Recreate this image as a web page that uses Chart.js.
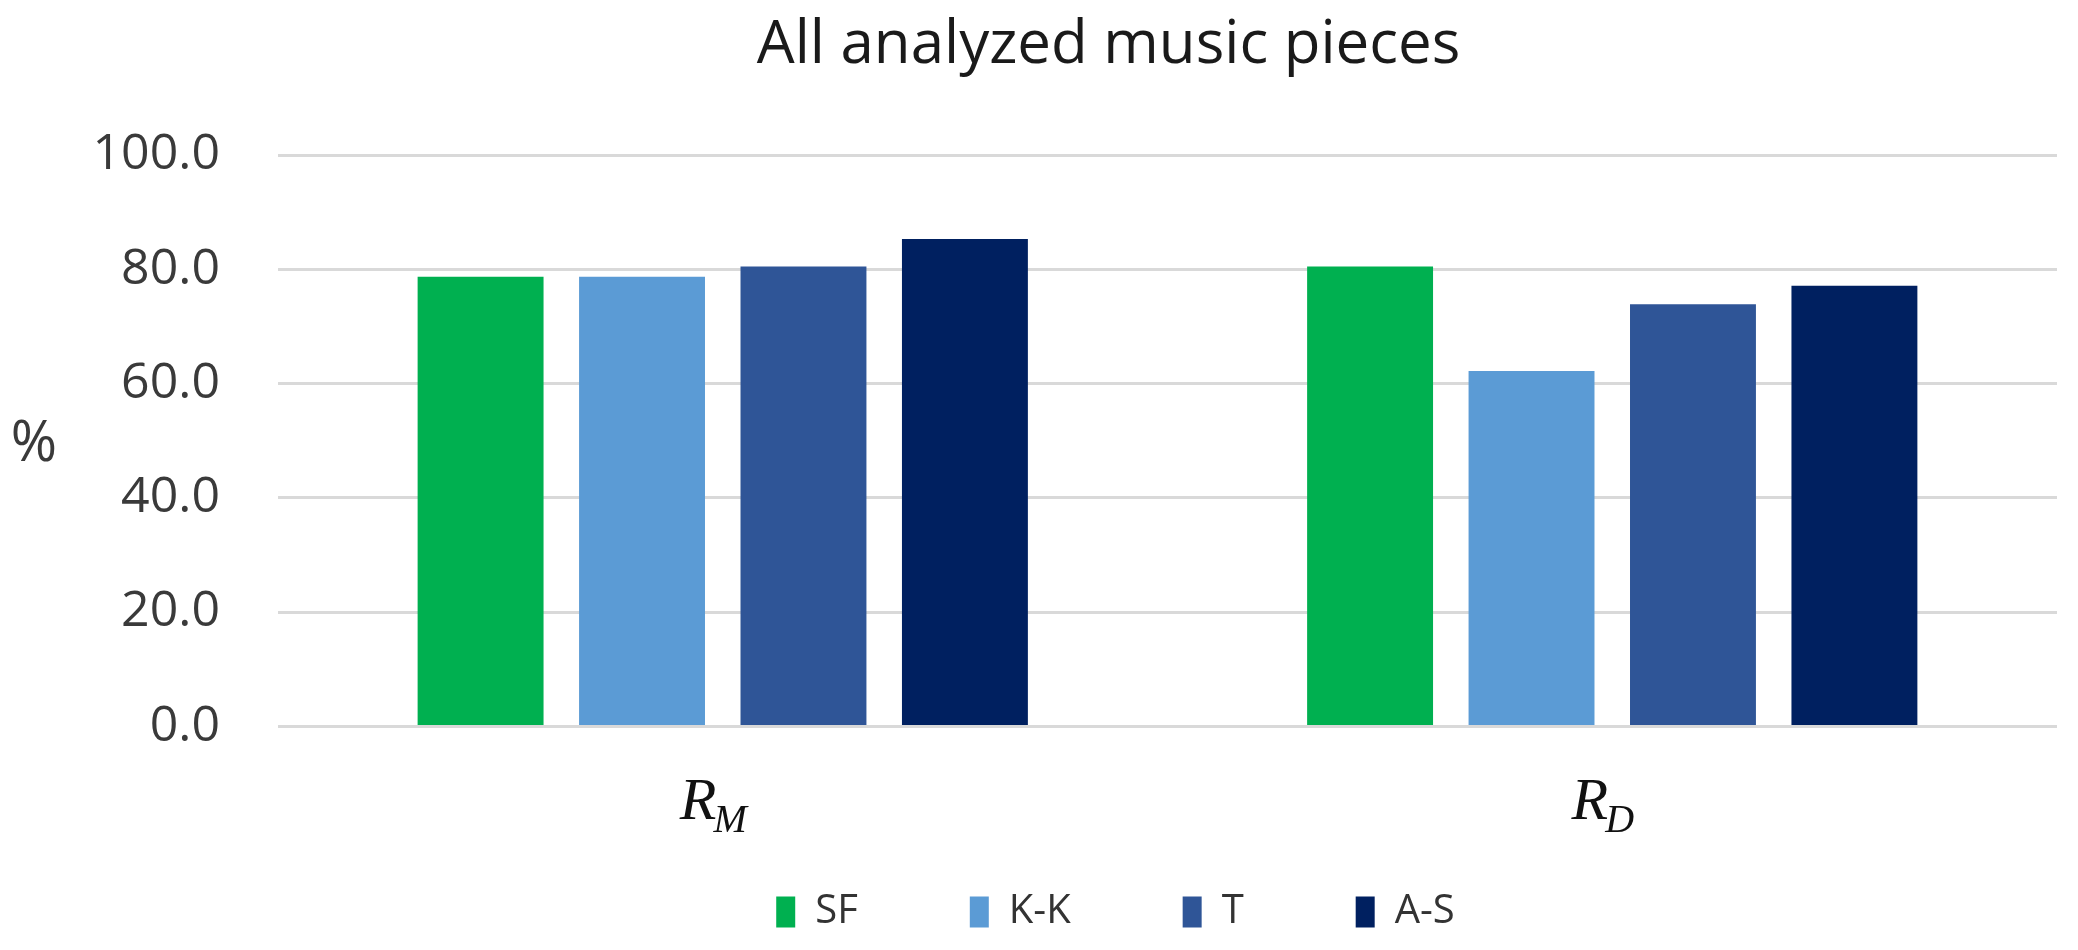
<!DOCTYPE html>
<html><head><meta charset="utf-8">
<script src="https://cdn.jsdelivr.net/npm/chart.js@4.4.0/dist/chart.umd.min.js"></script>
<style>html,body{margin:0;padding:0;background:#fff;}#wrap{width:2078px;height:950px;}</style>
</head><body><div id="wrap"><canvas id="c" width="2078" height="950"></canvas></div>
<script>
const chartTitle = 'All analyzed music pieces';
const categories = ['R_M', 'R_D'];
const seriesNames = ['SF', 'K-K', 'T', 'A-S'];
const sfValues = [78.7, 80.5];
const kkValues = [78.7, 62.2];
const tValues = [80.5, 73.9];
const asValues = [85.3, 77.1];
const yAxisLabel = '%';
const yMin = 0, yMax = 100, yStep = 20;
const seriesColors = ['#00B050', '#5B9BD5', '#2F5597', '#002060'];

const seriesValues = [sfValues, kkValues, tValues, asValues];

const customText = {
  id: 'customText',
  afterLayout(chart) {
    if (chart.legend) { chart.legend.left += 42; chart.legend.right += 42; }
    if (chart.titleBlock) { chart.titleBlock.left += 35; chart.titleBlock.right += 35; }
  },
  afterDraw(chart) {
    const ctx = chart.ctx, xs = chart.scales.x, area = chart.chartArea;
    ctx.save();
    ctx.fillStyle = '#3a3a3a';
    ctx.font = '56px "Open Sans"';
    ctx.textAlign = 'center';
    ctx.textBaseline = 'middle';
    ctx.fillText(yAxisLabel, 34, (area.top + area.bottom) / 2 + 4);
    ctx.fillStyle = '#111';
    categories.forEach((lab, i) => {
      const parts = lab.split('_');
      const base = parts[0], sub = parts[1] || '';
      const cx = xs.getPixelForValue(i);
      ctx.font = 'italic 60px "Liberation Serif"';
      const wb = ctx.measureText(base).width;
      ctx.font = 'italic 40px "Liberation Serif"';
      const ws = ctx.measureText(sub).width;
      const x0 = cx - (wb + ws) / 2 - 8;
      const baseY = area.bottom + 93;
      ctx.textAlign = 'left';
      ctx.textBaseline = 'alphabetic';
      ctx.font = 'italic 60px "Liberation Serif"';
      ctx.fillText(base, x0, baseY);
      ctx.font = 'italic 40px "Liberation Serif"';
      ctx.fillText(sub, x0 + wb - 3, baseY + 13);
    });
    ctx.restore();
  }
};

new Chart(document.getElementById('c'), {
  type: 'bar',
  data: {
    labels: categories,
    datasets: seriesNames.map((name, k) => ({
      label: name,
      data: seriesValues[k],
      backgroundColor: seriesColors[k],
      borderWidth: 0,
      categoryPercentage: 0.726,
      barPercentage: 0.78
    }))
  },
  options: {
    responsive: false,
    devicePixelRatio: 1,
    animation: false,
    layout: { padding: { left: 90, right: 21, top: 0, bottom: 8 } },
    plugins: {
      title: {
        display: true,
        text: chartTitle,
        color: '#1a1a1a',
        font: { family: '"Open Sans"', size: 60, weight: 'normal' },
        padding: { top: 10, bottom: 73 }
      },
      legend: {
        display: true,
        position: 'bottom',
        labels: {
          color: '#333',
          font: { family: '"Open Sans"', size: 40 },
          boxWidth: 19,
          boxHeight: 31,
          padding: 112
        }
      },
      tooltip: { enabled: false }
    },
    scales: {
      x: {
        grid: { display: false, drawTicks: false },
        border: { display: false },
        ticks: { color: 'rgba(0,0,0,0)', font: { family: '"Open Sans"', size: 33 }, padding: 7 }
      },
      y: {
        min: yMin, max: yMax,
        afterFit: (scale) => { scale.width = 188; },
        grid: { color: '#d9d9d9', lineWidth: 3, drawTicks: false },
        border: { display: false },
        ticks: {
          stepSize: yStep,
          color: '#3a3a3a',
          font: { family: '"Open Sans"', size: 50 },
          padding: 58,
          callback: v => Number(v).toFixed(1)
        }
      }
    }
  },
  plugins: [customText]
});
</script>
</body></html>
